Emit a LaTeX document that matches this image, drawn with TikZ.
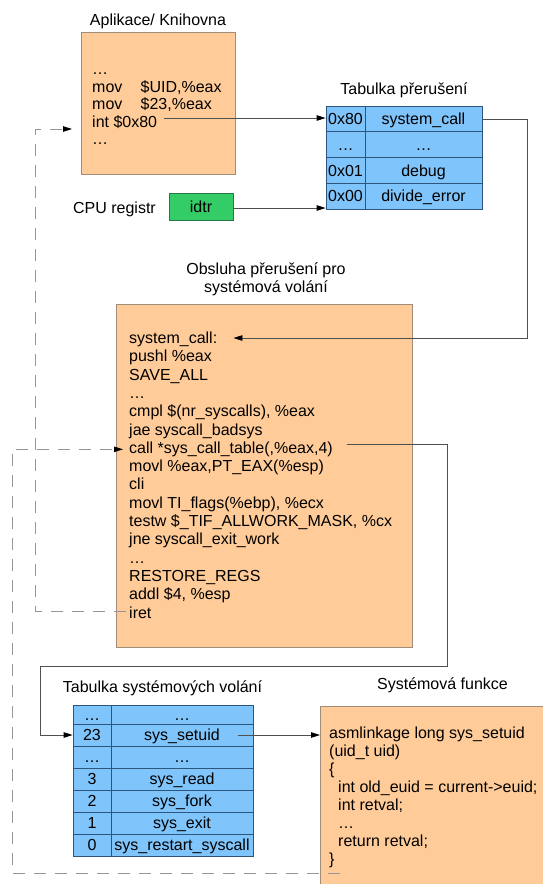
\documentclass[tikz,border=0pt]{standalone}
\usepackage{fontspec}
\setmainfont{Liberation Sans}
\usetikzlibrary{arrows.meta,calc}

\definecolor{peach}{RGB}{255,204,153}
\definecolor{peachline}{RGB}{160,140,120}
\definecolor{cellblue}{RGB}{127,196,250}
\definecolor{cellline}{RGB}{45,85,125}
\definecolor{regg}{RGB}{51,204,102}
\definecolor{reggline}{RGB}{40,120,70}
\definecolor{wire}{RGB}{80,80,80}
\definecolor{retwire}{RGB}{150,150,150}

\tikzset{
  codeline/.style={anchor=base west, inner sep=0pt, text height=12pt, text depth=4pt},
  caption/.style={inner sep=0pt, align=center},
  orangebox/.style={draw=peachline, fill=peach, line width=0.8pt, inner sep=0pt},
  cell/.style={draw=cellline, fill=cellblue, line width=0.8pt, inner sep=0pt,
               text height=11.5pt, text depth=0pt},
  regbox/.style={draw=reggline, fill=regg, line width=0.8pt, inner sep=0pt,
                 text height=11.5pt, text depth=0pt},
  conn/.style={draw=wire, line width=0.8pt, -{Triangle[length=9pt,width=5.5pt,color=black]}},
  retconn/.style={draw=retwire, line width=0.8pt, dash pattern=on 12pt off 9pt,
                  -{Triangle[length=9pt,width=5.5pt,color=black]}}
}

\begin{document}
\begin{tikzpicture}[x=1pt,y=-1pt,font=\fontsize{16}{18.3}\selectfont]
\useasboundingbox (0,0) rectangle (542,884);
\fill[white] (0,0) rectangle (542,884);

% ---- application / library ----
\node[caption] (aplT) at (158,21) {Aplikace/ Knihovna};
\node[orangebox, minimum width=154pt, minimum height=142pt] (apl) at (158,103) {};
\node[codeline] (a0) at (92,74.5) {…};
\node[codeline] (a1) at (92,92) {\makebox[48.5pt][l]{mov}\$UID,\%eax};
\node[codeline] (a2) at (92,109.5) {\makebox[48.5pt][l]{mov}\$23,\%eax};
\node[codeline] (intl) at (92,127) {int \$0x80};
\node[codeline] (a4) at (92,144.5) {…};

% ---- interrupt table ----
\node[caption] (idtT) at (404,90) {Tabulka přerušení};
\foreach \nm/\y/\ka/\kb in {r80/118.9/0x80/system\_call,
                            rdd/144.6/…/…,
                            r01/170.4/0x01/debug,
                            r00/196.1/0x00/divide\_error}{
  \node[cell, minimum width=39pt, minimum height=25.75pt] (\nm a) at (345.5,\y) {\ka};
  \node[cell, minimum width=117pt, minimum height=25.75pt] (\nm b) at (423.5,\y) {\kb};
}

% ---- CPU register ----
\node[anchor=base east, inner sep=0pt] (cpu) at (156,213.5) {CPU registr};
\node[regbox, minimum width=64pt, minimum height=27pt] (idtr) at (201,206.5) {idtr};

% ---- system call handler ----
\node[caption] (hT) at (266,279) {Obsluha přerušení pro\\systémová volání};
\node[orangebox, minimum width=296pt, minimum height=343pt] (hbox) at (264,475.5) {};
\node[codeline] (scl)   at (129,343.5) {system\_call:};
\node[codeline] (h1)    at (129,361.8) {pushl \%eax};
\node[codeline] (h2)    at (129,380.1) {SAVE\_ALL};
\node[codeline] (h3)    at (129,398.4) {…};
\node[codeline] (h4)    at (129,416.7) {cmpl \$(nr\_syscalls), \%eax};
\node[codeline] (h5)    at (129,435.0) {jae syscall\_badsys};
\node[codeline] (calll) at (129,453.3) {call *sys\_call\_table(,\%eax,4)};
\node[codeline] (h7)    at (129,471.6) {movl \%eax,PT\_EAX(\%esp)};
\node[codeline] (h8)    at (129,489.9) {cli};
\node[codeline] (h9)    at (129,508.2) {movl TI\_flags(\%ebp), \%ecx};
\node[codeline] (h10)   at (129,526.5) {testw \$\_TIF\_ALLWORK\_MASK, \%cx};
\node[codeline] (h11)   at (129,544.8) {jne syscall\_exit\_work};
\node[codeline] (h12)   at (129,563.1) {…};
\node[codeline] (h13)   at (129,581.4) {RESTORE\_REGS};
\node[codeline] (h14)   at (129,599.7) {addl \$4, \%esp};
\node[codeline] (iretl) at (129,618.0) {iret};

% ---- system call table ----
\node[caption] (sT) at (162.5,688) {Tabulka systémových volání};
\node[cell, minimum width=38pt, minimum height=19pt] (sdda) at (92,714.5) {…};
\node[cell, minimum width=142pt, minimum height=19pt] (sddb) at (182,714.5) {…};
\foreach \nm/\y/\ka/\kb in {r23/735/23/sys\_setuid,
                            rxx/757/…/…,
                            r3/779/3/sys\_read,
                            r2/801/2/sys\_fork,
                            r1/823/1/sys\_exit,
                            r0/845/0/sys\_restart\_syscall}{
  \node[cell, minimum width=38pt, minimum height=22pt] (\nm a) at (92,\y) {\ka};
  \node[cell, minimum width=142pt, minimum height=22pt] (\nm b) at (182,\y) {\kb};
}
\draw[cellline, line width=1.6pt] (sdda.south west) -- (sddb.south east);

% ---- system function ----
\node[caption] (fT) at (442.5,685) {Systémová funkce};
\node[orangebox, anchor=north west, minimum width=240pt, minimum height=200pt] (fbox) at (320,706) {};
\node[codeline] (f0) at (329,738.5) {asmlinkage long sys\_setuid};
\node[codeline] (f1) at (329,756.5) {(uid\_t uid)};
\node[codeline] (f2) at (329,774.5) {\{};
\node[codeline] (f3) at (338,792.5) {int old\_euid = current->euid;};
\node[codeline] (f4) at (338,810.5) {int retval;};
\node[codeline] (f5) at (338,828.5) {…};
\node[codeline] (f6) at (338,846.5) {return retval;};
\node[codeline] (f7) at (329,864.5) {\}};

% ---- connectors ----
\draw[conn] ([xshift=7pt,yshift=5pt]intl.east) coordinate (intout) -- (intout -| r80a.west);
\draw[conn] ([yshift=-1.5pt]idtr.east) coordinate (idtrout) -- (idtrout -| r00a.west);
\draw[conn] (r80b.east) -- ++(45,0) |- ([xshift=16pt,yshift=1.5pt]scl.east);

\coordinate (loopR) at (447,666);
\coordinate (loopL) at (40,666);
\draw[conn] ([xshift=14pt,yshift=5pt]calll.east) -| (loopR) -- (loopL) |- (r23a.west);

\draw[conn] ([xshift=-15pt]r23b.east) coordinate (setout) -- (setout -| fbox.west);

% ---- return paths ----
\coordinate (retA) at (35,0);
\coordinate (retB) at (72,129);
\draw[retconn] ([xshift=-3pt,yshift=3pt]iretl.west) coordinate (iretout) -- (iretout -| retA) |- (retB);

\coordinate (fret) at (340,873);
\coordinate (retC) at (12,0);
\draw[retconn] (fret) -- (fret -| retC) |- ([xshift=-6pt]calll.west);
\end{tikzpicture}
\end{document}
